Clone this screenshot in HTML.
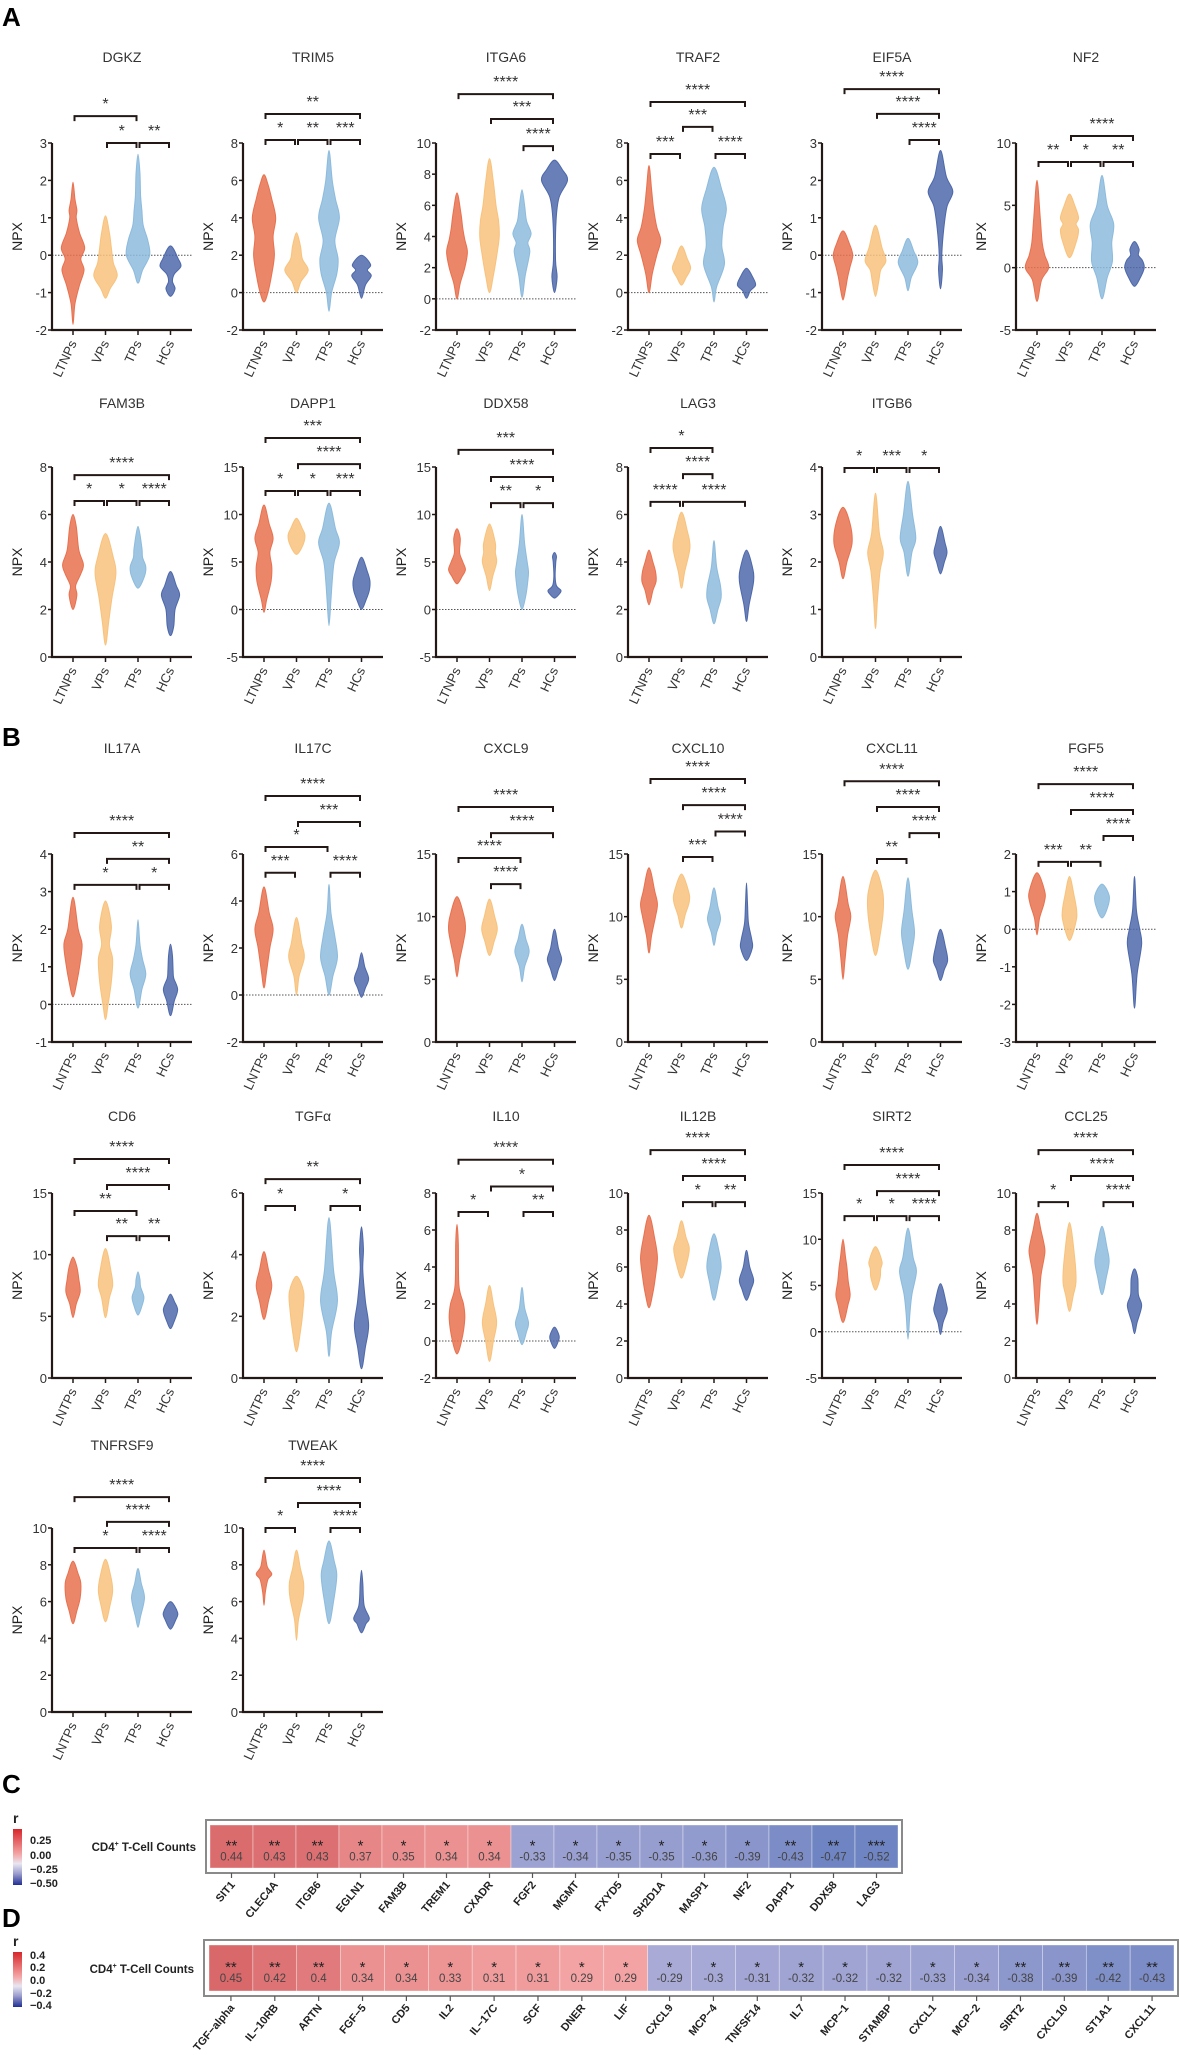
<!DOCTYPE html>
<html><head><meta charset="utf-8">
<style>
html,body{margin:0;padding:0;background:#fff;}
svg{display:block;font-family:"Liberation Sans",Arial,sans-serif;}
</style></head>
<body>
<svg id="fig" width="1179" height="2055" viewBox="0 0 1179 2055" xmlns="http://www.w3.org/2000/svg">
<text x="2" y="26" font-size="26" font-weight="bold" fill="#000">A</text>
<text x="2" y="746" font-size="26" font-weight="bold" fill="#000">B</text>
<text x="2" y="1793" font-size="26" font-weight="bold" fill="#000">C</text>
<text x="2" y="1927" font-size="26" font-weight="bold" fill="#000">D</text>
</svg>
<script>
const groupsA = ["LTNPs","VPs","TPs","HCs"];
const groupsB = ["LNTPs","VPs","TPs","HCs"];
const groupColors = ["#e8714f","#f8c27c","#8dbbdd","#4d68aa"];

const panelTitles = ["DGKZ","TRIM5","ITGA6","TRAF2","EIF5A","NF2",
 "FAM3B","DAPP1","DDX58","LAG3","ITGB6",
 "IL17A","IL17C","CXCL9","CXCL10","CXCL11","FGF5",
 "CD6","TGF\u03B1","IL10","IL12B","SIRT2","CCL25",
 "TNFRSF9","TWEAK"];
const panelRanges = [[-2,3,1],[-2,8,2],[-2,10,2],[-2,8,2],[-2,3,1],[-5,10,5],
 [0,8,2],[-5,15,5],[-5,15,5],[0,8,2],[0,4,1],
 [-1,4,1],[-2,6,2],[0,15,5],[0,15,5],[0,15,5],[-3,2,1],
 [0,15,5],[0,6,2],[-2,8,2],[0,10,2],[-5,15,5],[0,10,2],
 [0,10,2],[0,10,2]];

// violin density profiles: [value, relative half-width]
const violinData = [
 [[[-1.85,0],[-1.3,.15],[-0.8,.5],[-0.4,.85],[-0.1,.6],[0.2,.9],[0.6,.5],[1.0,.25],[1.2,.3],[1.5,.15],[1.95,0]],
  [[-1.15,0],[-0.9,.35],[-0.55,.9],[-0.2,.6],[0.2,.45],[0.6,.3],[1.05,0]],
  [[-0.75,0],[-0.4,.35],[0,.9],[0.4,.75],[0.8,.4],[1.2,.3],[1.6,.2],[2.2,.15],[2.7,0]],
  [[-1.1,0],[-0.9,.35],[-0.7,.15],[-0.5,.3],[-0.3,.8],[-0.1,.6],[0.25,0]]],
 [[[-0.5,0],[0,.3],[1,.6],[2,.8],[3,.7],[4,.9],[5,.6],[5.8,.3],[6.3,0]],
  [[0,0],[0.6,.35],[1.2,.9],[1.8,.45],[2.5,.3],[3.2,0]],
  [[-1,0],[0,.2],[1,.6],[1.8,.7],[2.8,.45],[4,.8],[5,.5],[6,.25],[7.6,0]],
  [[-0.3,0],[0.4,.3],[0.9,.75],[1.2,.45],[1.5,.7],[2.0,0]]],
 [[[0,0],[1,.25],[2,.6],[3,.8],[3.8,.6],[4.5,.45],[5.5,.3],[6.8,0]],
  [[0.4,0],[1.5,.3],[3,.6],[4,.75],[5,.7],[6,.5],[7.5,.3],[9,0]],
  [[0.1,0],[1.5,.25],[3,.6],[3.6,.45],[4.2,.7],[5,.35],[6,.2],[7,0]],
  [[0.4,0],[1.4,.2],[2.5,.08],[5,.12],[6.5,.35],[7.6,1],[8.3,.6],[8.9,0]]],
 [[[0,0],[1,.25],[2,.6],[2.8,.9],[3.5,.6],[4.5,.35],[5.5,.2],[6.8,0]],
  [[0.4,0],[0.8,.35],[1.3,.7],[1.8,.45],[2.5,0]],
  [[-0.5,0],[0.3,.2],[1.5,.8],[2.5,.6],[3.5,.7],[4.5,.95],[5.5,.6],[6.7,0]],
  [[-0.3,0],[0.1,.3],[0.4,.7],[0.8,.5],[1.3,0]]],
 [[[-1.2,0],[-0.9,.2],[-0.6,.35],[-0.3,.55],[0,.75],[0.3,.5],[0.65,0]],
  [[-1.1,0],[-0.7,.25],[-0.4,.4],[-0.15,.8],[0.2,.5],[0.8,0]],
  [[-0.95,0],[-0.6,.25],[-0.2,.75],[0.1,.45],[0.45,0]],
  [[-0.9,0],[-0.4,.15],[0,.1],[0.7,.25],[1.3,.5],[1.7,.95],[2.1,.45],[2.8,0]]],
 [[[-2.7,0],[-1,.35],[0,.9],[1,.6],[2,.4],[4,.25],[7,0]],
  [[0.8,0],[2,.5],[3,.7],[3.5,.5],[4,.7],[5,.4],[5.9,0]],
  [[-2.5,0],[-0.8,.4],[0.5,.8],[2,.75],[3.5,.9],[5,.4],[7.4,0]],
  [[-1.5,0],[-0.8,.45],[0,.75],[0.6,.6],[1,.3],[1.5,.35],[2.1,0]]],
 [[[2,0],[2.6,.3],[3,.2],[3.5,.6],[3.9,.8],[4.5,.45],[5.5,.25],[6,0]],
  [[0.5,0],[1.5,.25],[2.5,.5],[3.5,.8],[4.2,.6],[5.2,0]],
  [[2.9,0],[3.4,.5],[3.8,.6],[4.2,.35],[4.6,.3],[5.5,0]],
  [[0.9,0],[1.3,.25],[2,.35],[2.6,.7],[3,.45],[3.6,0]]],
 [[[-0.3,0],[1,.2],[3,.55],[4.5,.6],[6,.45],[7.5,.7],[9,.4],[11,0]],
  [[5.8,0],[6.8,.5],[7.8,.65],[8.5,.45],[9.6,0]],
  [[-1.7,0],[1,.15],[3,.25],[5,.4],[7,.8],[8.5,.5],[11.2,0]],
  [[0,0],[1,.35],[2,.6],[3,.65],[4,.45],[5.5,0]]],
 [[[2.7,0],[3.5,.4],[4.2,.65],[5,.45],[6,.2],[7.5,.25],[8.5,0]],
  [[2,0],[3.5,.25],[5,.55],[6,.45],[7,.45],[9,0]],
  [[0,0],[1.5,.3],[3,.45],[4,.5],[5,.4],[7,.2],[10,0]],
  [[1.2,0],[1.6,.35],[2,.5],[2.5,.15],[3.5,.05],[5,.1],[5.6,.15],[6,0]]],
 [[[2.2,0],[2.8,.3],[3.2,.55],[3.6,.5],[4.0,.3],[4.5,0]],
  [[2.9,0],[3.6,.25],[4.6,.65],[5.3,.45],[6.1,0]],
  [[1.4,0],[2,.3],[2.5,.55],[3,.5],[3.8,.2],[4.9,0]],
  [[1.5,0],[2.2,.2],[3.2,.55],[3.8,.45],[4.5,0]]],
 [[[1.65,0],[2,.3],[2.4,.7],[2.8,.55],[3.15,0]],
  [[0.6,0],[1.2,.15],[1.8,.35],[2.2,.6],[2.6,.3],[3.45,0]],
  [[1.7,0],[2.2,.3],[2.5,.6],[3,.35],[3.7,0]],
  [[1.75,0],[2,.3],[2.2,.5],[2.4,.35],[2.75,0]]],
 [[[0.2,0],[0.6,.3],[1.1,.55],[1.6,.7],[2,.4],[2.85,0]],
  [[-0.4,0],[0,.2],[0.6,.45],[1.2,.55],[1.6,.3],[2.1,.45],[2.75,0]],
  [[-0.1,0],[0.4,.3],[0.8,.6],[1.2,.35],[1.6,.15],[2.25,0]],
  [[-0.3,0],[0.1,.3],[0.4,.55],[0.7,.25],[0.9,.2],[1.3,.15],[1.6,0]]],
 [[[0.3,0],[1,.2],[2,.45],[2.8,.7],[3.5,.4],[4.6,0]],
  [[0,0],[0.8,.2],[1.6,.6],[2.2,.4],[3.3,0]],
  [[0,0],[0.8,.3],[1.6,.65],[2.5,.45],[3.5,.15],[4.7,0]],
  [[-0.1,0],[0.3,.3],[0.7,.55],[1.2,.25],[1.8,0]]],
 [[[5.2,0],[6.5,.2],[8,.5],[9,.65],[10,.55],[11.6,0]],
  [[6.9,0],[8,.35],[9,.6],[10,.4],[11.4,0]],
  [[4.8,0],[6,.2],[7.2,.55],[8.2,.3],[9.4,0]],
  [[4.9,0],[5.8,.3],[6.6,.55],[7.5,.3],[9,0]]],
 [[[7.1,0],[8.5,.2],[10,.5],[11,.65],[12,.45],[13.9,0]],
  [[9.1,0],[10.2,.3],[11.2,.6],[12,.55],[13.4,0]],
  [[7.7,0],[8.7,.2],[9.8,.5],[10.8,.3],[12.3,0]],
  [[6.5,0],[7.5,.45],[8.2,.4],[9.5,.15],[11,.08],[12.7,0]]],
 [[[5,0],[6.5,.15],[8.5,.35],[10,.6],[11,.4],[13.2,0]],
  [[6.9,0],[8.5,.35],[10.5,.6],[12,.55],[13.7,0]],
  [[5.8,0],[7.5,.35],[8.8,.5],[10.5,.3],[13.1,0]],
  [[4.9,0],[5.8,.3],[6.5,.55],[7.5,.4],[9,0]]],
 [[[-0.15,0],[0.3,.2],[0.7,.55],[1,.6],[1.5,0]],
  [[-0.3,0],[0.2,.5],[0.5,.55],[0.9,.35],[1.4,0]],
  [[0.3,0],[0.6,.45],[0.9,.55],[1.2,0]],
  [[-2.1,0],[-1.2,.2],[-0.4,.55],[0,.4],[0.5,.15],[1.4,0]]],
 [[[4.9,0],[6,.25],[7,.55],[8,.45],[9,.3],[9.8,0]],
  [[4.9,0],[6.5,.3],[7.5,.55],[8.5,.45],[10.5,0]],
  [[5.1,0],[6,.35],[6.6,.45],[7.4,.2],[8,.15],[8.6,0]],
  [[4,0],[4.5,.25],[5.5,.55],[6.2,.3],[6.8,0]]],
 [[[1.9,0],[2.5,.35],[3,.6],[3.5,.35],[4.1,0]],
  [[0.85,0],[1.5,.3],[2.2,.5],[2.8,.55],[3.3,0]],
  [[0.7,0],[1.5,.2],[2.5,.65],[3.5,.35],[5.2,0]],
  [[0.3,0],[1,.3],[1.7,.55],[2.5,.3],[3.5,.1],[4.2,.15],[4.9,0]]],
 [[[-0.7,0],[0,.35],[1.2,.6],[2,.5],[3,.15],[5.3,.1],[6.3,0]],
  [[-1.1,0],[0,.3],[1,.55],[2,.3],[3,0]],
  [[-0.2,0],[0.5,.35],[1,.5],[1.8,.2],[2.9,0]],
  [[-0.4,0],[0,.3],[0.3,.35],[0.75,0]]],
 [[[3.8,0],[4.6,.3],[5.5,.5],[6.5,.65],[7.5,.45],[8.8,0]],
  [[5.4,0],[6.2,.4],[7,.6],[7.6,.35],[8.5,0]],
  [[4.2,0],[5.2,.35],[6,.55],[6.8,.4],[7.8,0]],
  [[4.2,0],[4.8,.35],[5.3,.55],[6,.25],[6.9,0]]],
 [[[1,0],[3,.4],[4,.55],[5.5,.4],[7,.3],[8,.2],[10,0]],
  [[4.5,0],[5.8,.35],[6.8,.4],[7.6,.5],[9.2,0]],
  [[-0.8,0],[2,.15],[4,.3],[6.5,.65],[8,.4],[11.2,0]],
  [[-0.3,0],[1,.2],[2.2,.5],[3,.45],[5.2,0]]],
 [[[2.9,0],[4,.15],[5.5,.3],[6.5,.55],[7,.6],[8,.3],[8.9,0]],
  [[3.6,0],[4.5,.3],[5.2,.5],[6.5,.4],[8.4,0]],
  [[4.5,0],[5.5,.35],[6.3,.55],[7,.4],[8.2,0]],
  [[2.4,0],[3,.2],[3.9,.55],[4.5,.3],[5.4,.25],[5.9,0]]],
 [[[4.8,0],[5.5,.3],[6.2,.55],[7,.6],[7.5,.4],[8.2,0]],
  [[4.9,0],[5.8,.35],[6.6,.55],[7.4,.4],[8.3,0]],
  [[4.6,0],[5.2,.2],[6.2,.5],[7,.25],[7.8,0]],
  [[4.5,0],[5,.4],[5.4,.55],[6,0]]],
 [[[5.8,0],[6.5,.1],[7.2,.3],[7.5,.6],[7.9,.25],[8.8,0]],
  [[3.9,0],[5,.15],[6.2,.5],[7,.55],[7.8,.3],[8.8,0]],
  [[4.8,0],[6,.35],[7.4,.6],[8.2,.4],[9.3,0]],
  [[4.3,0],[4.8,.35],[5.1,.6],[5.8,.2],[7,.1],[7.7,0]]]
];

// significance brackets: [group i, group j, value level, label]
const bracketData = [
 [[0,2,3.72,"*"],[1,2,3.0,"*"],[2,3,3.0,"**"]],
 [[0,3,9.55,"**"],[0,1,8.16,"*"],[1,2,8.16,"**"],[2,3,8.16,"***"]],
 [[0,3,13.14,"****"],[1,3,11.54,"***"],[2,3,9.8,"****"]],
 [[0,3,10.19,"****"],[1,2,8.86,"***"],[0,1,7.41,"***"],[2,3,7.41,"****"]],
 [[0,3,4.44,"****"],[1,3,3.78,"****"],[2,3,3.08,"****"]],
 [[1,3,10.56,"****"],[0,1,8.48,"**"],[1,2,8.48,"*"],[2,3,8.48,"**"]],
 [[0,3,7.66,"****"],[0,1,6.57,"*"],[1,2,6.57,"*"],[2,3,6.57,"****"]],
 [[0,3,18.05,"***"],[1,3,15.3,"****"],[0,1,12.47,"*"],[1,2,12.47,"*"],[2,3,12.47,"***"]],
 [[0,3,16.8,"***"],[1,3,13.95,"****"],[1,2,11.2,"**"],[2,3,11.2,"*"]],
 [[0,2,8.8,"*"],[1,2,7.7,"****"],[0,1,6.53,"****"],[1,3,6.53,"****"]],
 [[0,1,3.98,"*"],[1,2,3.98,"***"],[2,3,3.98,"*"]],
 [[0,3,4.56,"****"],[1,3,3.87,"**"],[0,2,3.18,"*"],[2,3,3.18,"*"]],
 [[0,3,8.47,"****"],[1,3,7.36,"***"],[0,2,6.3,"*"],[0,1,5.2,"***"],[2,3,5.2,"****"]],
 [[0,3,18.75,"****"],[1,3,16.67,"****"],[0,2,14.68,"****"],[1,2,12.6,"****"]],
 [[0,3,20.98,"****"],[1,3,18.9,"****"],[2,3,16.8,"****"],[1,2,14.76,"***"]],
 [[0,3,20.8,"****"],[1,3,18.75,"****"],[2,3,16.67,"****"],[1,2,14.6,"**"]],
 [[0,3,3.86,"****"],[1,3,3.17,"****"],[2,3,2.48,"****"],[0,1,1.79,"***"],[1,2,1.79,"**"]],
 [[0,3,17.76,"****"],[1,3,15.65,"****"],[0,2,13.54,"**"],[1,2,11.5,"**"],[2,3,11.5,"**"]],
 [[0,3,6.45,"**"],[0,1,5.58,"*"],[2,3,5.58,"*"]],
 [[0,3,9.8,"****"],[1,3,8.35,"*"],[0,1,6.97,"*"],[2,3,6.97,"**"]],
 [[0,3,12.32,"****"],[1,3,10.92,"****"],[1,2,9.51,"*"],[2,3,9.51,"**"]],
 [[0,3,18.03,"****"],[1,3,15.2,"****"],[0,1,12.5,"*"],[1,2,12.5,"*"],[2,3,12.5,"****"]],
 [[0,3,12.32,"****"],[1,3,10.92,"****"],[0,1,9.51,"*"],[2,3,9.51,"****"]],
 [[0,3,11.68,"****"],[1,3,10.33,"****"],[0,2,8.91,"*"],[2,3,8.91,"****"]],
 [[0,3,12.72,"****"],[1,3,11.36,"****"],[0,1,10.0,"*"],[2,3,10.0,"****"]]
];

// heatmap C
const genesC = ["SIT1","CLEC4A","ITGB6","EGLN1","FAM3B","TREM1","CXADR","FGF2","MGMT","FXYD5","SH2D1A","MASP1","NF2","DAPP1","DDX58","LAG3"];
const valuesC = [0.44,0.43,0.43,0.37,0.35,0.34,0.34,-0.33,-0.34,-0.35,-0.35,-0.36,-0.39,-0.43,-0.47,-0.52];
const starsC = ["**","**","**","*","*","*","*","*","*","*","*","*","*","**","**","***"];
// heatmap D
const genesD = ["TGF\u2212alpha","IL\u221210RB","ARTN","FGF\u22125","CD5","IL2","IL\u221217C","SCF","DNER","LIF","CXCL9","MCP\u22124","TNFSF14","IL7","MCP\u22121","STAMBP","CXCL1","MCP\u22122","SIRT2","CXCL10","ST1A1","CXCL11"];
const valuesD = [0.45,0.42,0.4,0.34,0.34,0.33,0.31,0.31,0.29,0.29,-0.29,-0.3,-0.31,-0.32,-0.32,-0.32,-0.33,-0.34,-0.38,-0.39,-0.42,-0.43];
const starsD = ["**","**","**","*","*","*","*","*","*","*","*","*","*","*","*","*","*","*","**","**","**","**"];

const NS = "http://www.w3.org/2000/svg";
const svg = document.getElementById("fig");
function mk(tag, attrs, parent){
  const e = document.createElementNS(NS, tag);
  for (const k in attrs) e.setAttribute(k, attrs[k]);
  (parent||svg).appendChild(e);
  return e;
}
function slug(s){return s.toLowerCase().replace(/[^a-z0-9]+/g,'-').replace(/^-|-$/g,'');}

const colX = [52,243,436,628,822,1016];
const rowTop = [143,467,854,1193,1528];
const rowBot = [330,657,1042,1378,1712];
const rowTitle = [57,403,748,1116,1445];
const panelRow = [0,0,0,0,0,0,1,1,1,1,1,2,2,2,2,2,2,3,3,3,3,3,3,4,4];
const PW = 140, WSCALE = 13, INK = "#231815";

function smoothClosed(pts){
  const n = pts.length; let d = "M"+pts[0][0].toFixed(2)+","+pts[0][1].toFixed(2);
  for (let i=0;i<n;i++){
    const p0=pts[(i-1+n)%n], p1=pts[i], p2=pts[(i+1)%n], p3=pts[(i+2)%n];
    const c1=[p1[0]+(p2[0]-p0[0])/6, p1[1]+(p2[1]-p0[1])/6];
    const c2=[p2[0]-(p3[0]-p1[0])/6, p2[1]-(p3[1]-p1[1])/6];
    d += "C"+c1[0].toFixed(2)+","+c1[1].toFixed(2)+" "+c2[0].toFixed(2)+","+c2[1].toFixed(2)+" "+p2[0].toFixed(2)+","+p2[1].toFixed(2);
  }
  return d+"Z";
}

panelTitles.forEach((title, pi) => {
  const r = panelRow[pi];
  const col = (r===1) ? pi-6 : (r===2 ? pi-11 : (r===3 ? pi-17 : (r===4 ? pi-23 : pi)));
  const x0 = colX[col], T = rowTop[r], B = rowBot[r];
  const [lo, hi, step] = panelRanges[pi];
  const yS = v => B - (v-lo)/(hi-lo)*(B-T);
  const xS = i => x0 + 21 + i*32.5;
  const labels = r < 2 ? groupsA : groupsB;
  const g = mk("g", {});
  
  

  const tt = mk("text", {x:x0+PW/2, y:rowTitle[r]+5, "text-anchor":"middle", "font-size":14, fill:"#333"}, g);
  tt.textContent = title;
  
  

  // zero line
  if (lo < 0) {
    const zl = mk("line", {x1:x0, x2:x0+PW, y1:yS(0), y2:yS(0), stroke:"#555", "stroke-width":1, "stroke-dasharray":"1.5,1.5"}, g);
    
    
  }

  // violins
  violinData[pi].forEach((prof, gi) => {
    const cx = xS(gi);
    const right = prof.map(p => [cx + p[1]*WSCALE, yS(p[0])]);
    const left = prof.slice(1,-1).reverse().map(p => [cx - p[1]*WSCALE, yS(p[0])]);
    const pts = right.concat(left);
    const vp = mk("path", {d:smoothClosed(pts), fill:groupColors[gi], "fill-opacity":0.85, stroke:groupColors[gi], "stroke-width":1}, g);
    
    
  });

  // axes
  const ax = mk("path", {d:"M"+x0+","+T+"V"+B+"H"+(x0+PW), fill:"none", stroke:INK, "stroke-width":2.2}, g);
  
  
  for (let v = lo; v <= hi + 1e-9; v += step) {
    const y = yS(v);
    mk("line", {x1:x0-4, x2:x0, y1:y, y2:y, stroke:INK, "stroke-width":1.5}, g);
    const tl = mk("text", {x:x0-5, y:y+5, "text-anchor":"end", "font-size":13, fill:"#333"}, g);
    tl.textContent = String(v);
    
    
  }
  const yl = mk("text", {transform:"translate("+(x0-30)+","+((T+B)/2)+") rotate(-90)", "text-anchor":"middle", "font-size":14, fill:"#222"}, g);
  yl.textContent = "NPX";
  
  
  labels.forEach((lb, gi) => {
    const cx = xS(gi);
    mk("line", {x1:cx, x2:cx, y1:B, y2:B+5, stroke:INK, "stroke-width":1.5}, g);
    const xl = mk("text", {transform:"translate("+(cx+4)+","+(B+13)+") rotate(-65)", "text-anchor":"end", "font-size":13, fill:"#333"}, g);
    xl.textContent = lb;
    
    
  });

  // brackets
  bracketData[pi].forEach(b => {
    const [i, j, lvl, lab] = b;
    const xa = xS(i)+1.5, xb = xS(j)-1.5, y = yS(lvl);
    const bp = mk("path", {d:"M"+xa+","+(y+5)+"V"+y+"H"+xb+"V"+(y+5), fill:"none", stroke:INK, "stroke-width":2}, g);
    
    
    const st = mk("text", {x:(xS(i)+xS(j))/2, y:y-7, "text-anchor":"middle", "font-size":16, fill:"#333"}, g);
    st.textContent = lab;
    
    
  });
});

// heatmaps
function lerpHex(a,b,t){
  const pa=[1,3,5].map(k=>parseInt(a.substr(k,2),16)), pb=[1,3,5].map(k=>parseInt(b.substr(k,2),16));
  return "rgb("+pa.map((v,k)=>Math.round(v+(pb[k]-v)*t)).join(",")+")";
}
function cellColor(v){
  if (v >= 0) { const t=Math.max(0,Math.min(1,(v-0.29)/0.16)); return lerpHex("#f3a3a3","#d9686a",t); }
  const t=Math.max(0,Math.min(1,(-v-0.29)/0.18)); return lerpHex("#a9aad6","#6f84c2",t);
}
function heatmap(name, genes, vals, stars, box, cellX, cellW, cellY, cellH, rowLabelX, rowLabelY, cbar, cbTicks){
  const g = mk("g", {});
  
  
  const frame = mk("rect", {x:box[0], y:box[1], width:box[2], height:box[3], fill:"#fff", stroke:"#8a8a8a", "stroke-width":2}, g);
  
  
  const rl = mk("text", {x:rowLabelX, y:rowLabelY, "text-anchor":"end", "font-size":11.5, "font-weight":"bold", fill:"#222"}, g);
  rl.innerHTML = 'CD4<tspan font-size="7" dy="-5">+</tspan><tspan dy="5"> T-Cell Counts</tspan>';
  
  
  genes.forEach((gn, i) => {
    const x = cellX + i*cellW, cx = x + cellW/2;
    const c = mk("rect", {x:x, y:cellY, width:cellW, height:cellH, fill:cellColor(vals[i]), stroke:"#fff", "stroke-width":0.6, "stroke-opacity":0.6}, g);
    
    
    const s = mk("text", {x:cx, y:cellY+cellH/2+4, "text-anchor":"middle", "font-size":15, fill:"#222"}, g);
    s.textContent = stars[i];
    
    
    const vt = mk("text", {x:cx, y:cellY+cellH/2+14, "text-anchor":"middle", "font-size":11.5, fill:"#444"}, g);
    vt.textContent = String(vals[i]);
    
    
    const by = box[1]+box[3];
    mk("line", {x1:cx, x2:cx, y1:by, y2:by+5, stroke:"#555", "stroke-width":1.2}, g);
    const gl = mk("text", {transform:"translate("+(cx+4)+","+(by+12)+") rotate(-50)", "text-anchor":"end", "font-size":11, "font-weight":"bold", fill:"#222"}, g);
    gl.textContent = gn;
    
    
  });
  // colorbar
  const gid = name+"-grad";
  const defs = mk("defs", {}, g);
  const lg = mk("linearGradient", {id:gid, x1:0, y1:0, x2:0, y2:1}, defs);
  [["0","#d7262b"],["0.45","#f4a5a5"],["0.62","#e8e6f2"],["0.8","#9a9ccd"],["1","#1f2f95"]].forEach(s=>mk("stop",{offset:s[0],"stop-color":s[1]},lg));
  const cb = mk("rect", {x:cbar[0], y:cbar[1], width:cbar[2], height:cbar[3], fill:"url(#"+gid+")"}, g);
  
  
  const rt = mk("text", {x:cbar[0], y:cbar[1]-6, "font-size":14, "font-weight":"bold", fill:"#222"}, g);
  rt.textContent = "r";
  
  
  cbTicks.forEach(t => {
    const tl = mk("text", {x:cbar[0]+17, y:t[1]+4, "font-size":11, "font-weight":"bold", fill:"#222"}, g);
    tl.textContent = t[0];
    
    
  });
}
heatmap("heatmap-c", genesC, valuesC, starsC, [206,1820,696,53], 210, (898-210)/16, 1825, 43, 196, 1851,
  [13,1829,9,56], [["0.25",1840],["0.00",1855],["\u22120.25",1869],["\u22120.50",1883]]);
heatmap("heatmap-d", genesD, valuesD, starsD, [204,1940,974,56], 209, (1174-209)/22, 1945, 46, 194, 1973,
  [13,1952,9,55], [["0.4",1955],["0.2",1967],["0.0",1980],["\u22120.2",1993],["\u22120.4",2005]]);
</script>
</body></html>
